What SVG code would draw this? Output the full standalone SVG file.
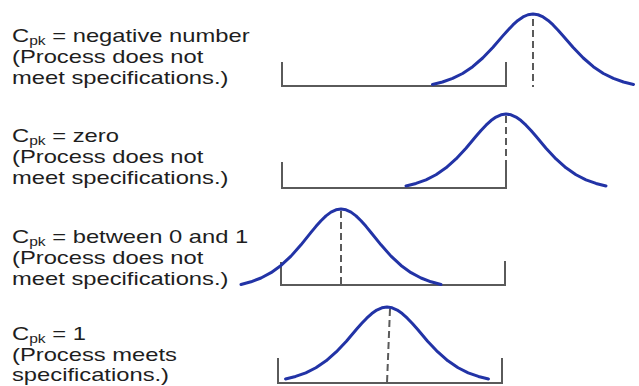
<svg xmlns="http://www.w3.org/2000/svg" width="639" height="386" viewBox="0 0 639 386">
<style>
.t{font-family:"Liberation Sans",Arial,sans-serif;font-size:19px;fill:#1e1e1e}
.s{font-size:12.5px}
.br{fill:none;stroke:#5a5a5a;stroke-width:2}
.cv{fill:none;stroke:#2233a6;stroke-width:3;stroke-linejoin:round;stroke-linecap:round}
.ds{fill:none;stroke:#5a5a5a;stroke-width:2;stroke-dasharray:7 4}
</style>
<rect width="639" height="386" fill="#fff"/>
<g id="label1" transform="translate(12 0) scale(1.25 1)">
<text class="t" x="0" y="42">C<tspan class="s" dy="3">pk</tspan><tspan dy="-3"> = negative number</tspan></text>
<text class="t" x="0" y="63">(Process does not</text>
<text class="t" x="0" y="84">meet specifications.)</text>
</g>
<g id="label2" transform="translate(12 0) scale(1.25 1)">
<text class="t" x="0" y="142">C<tspan class="s" dy="3">pk</tspan><tspan dy="-3"> = zero</tspan></text>
<text class="t" x="0" y="163">(Process does not</text>
<text class="t" x="0" y="184">meet specifications.)</text>
</g>
<g id="label3" transform="translate(12 0) scale(1.25 1)">
<text class="t" x="0" y="243">C<tspan class="s" dy="3">pk</tspan><tspan dy="-3"> = between 0 and 1</tspan></text>
<text class="t" x="0" y="264">(Process does not</text>
<text class="t" x="0" y="285">meet specifications.)</text>
</g>
<g id="label4" transform="translate(12 0) scale(1.25 1)">
<text class="t" x="0" y="340">C<tspan class="s" dy="3">pk</tspan><tspan dy="-3"> = 1</tspan></text>
<text class="t" x="0" y="361">(Process meets</text>
<text class="t" x="0" y="381">specifications.)</text>
</g>
<g id="chart1">
<path class="br" d="M282,62 V86 H506 V62"/>
<polyline class="cv" points="432.5,84.5 442.5,82.0 452.6,78.45 462.6,73.47 472.7,66.73 482.7,58.0 492.8,47.45 502.8,35.88 507.9,30.2 512.9,24.96 517.9,20.44 523.0,16.96 528.0,14.75 533,14 538.0,14.75 543.1,16.96 548.1,20.44 553.1,24.96 558.1,30.2 563.2,35.88 573.2,47.45 583.3,58.0 593.3,66.73 603.4,73.47 613.4,78.45 623.5,82.0 633.5,84.5"/>
<line class="ds" x1="533" y1="19" x2="533" y2="87"/>
</g>
<g id="chart2">
<path class="br" d="M282,162 V188 H506 V160"/>
<polyline class="cv" points="406,186 416,183.44 426,179.82 436,174.74 446,167.85 456,158.94 466,148.16 476,136.34 481,130.55 486,125.19 491,120.58 496,117.02 501,114.77 506,114 511,114.77 516,117.02 521,120.58 526,125.19 531,130.55 536,136.34 546,148.16 556,158.94 566,167.85 576,174.74 586,179.82 596,183.44 606,186"/>
<line class="ds" x1="506" y1="116" x2="506" y2="160"/>
</g>
<g id="chart3">
<path class="br" d="M281,262 V285 H505 V261"/>
<polyline class="cv" points="241,284.5 251,281.82 261,278.02 271,272.69 281,265.47 291,256.12 301,244.82 311,232.43 316,226.35 321,220.73 326,215.90 331,212.17 336,209.81 341,209 346,209.81 351,212.17 356,215.90 361,220.73 366,226.35 371,232.43 381,244.82 391,256.12 401,265.47 411,272.69 421,278.02 431,281.82 441,284.5"/>
<line class="ds" x1="341" y1="211" x2="341" y2="285"/>
</g>
<g id="chart4">
<path class="br" d="M278,358 V383 H502 V358"/>
<polyline class="cv" points="285.5,379 295.6,376.44 305.8,372.82 315.9,367.74 326.1,360.85 336.2,351.94 346.4,341.16 356.5,329.34 361.6,323.55 366.7,318.19 371.8,313.58 376.8,310.02 381.9,307.77 387,307 392.1,307.77 397.2,310.02 402.2,313.58 407.3,318.19 412.4,323.55 417.5,329.34 427.6,341.16 437.8,351.94 447.9,360.85 458.1,367.74 468.2,372.82 478.4,376.44 488.5,379"/>
<line class="ds" x1="390" y1="309" x2="387" y2="383"/>
</g>
</svg>
